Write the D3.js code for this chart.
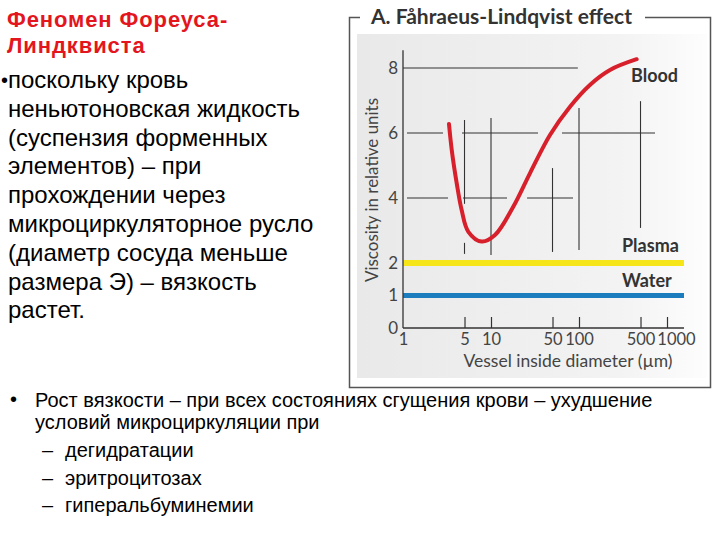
<!DOCTYPE html>
<html><head><meta charset="utf-8">
<script src="https://cdn.jsdelivr.net/npm/d3@7"></script>
<style>body{margin:0;background:#fff}svg{display:block}</style>
</head><body><svg id="c" width="720" height="540"></svg>
<script>
// ---- data ----
const bloodDiameter  = [3.33, 3.58, 4.08, 4.64, 5.53, 7.84, 11.1, 17.9, 27.7, 46.8, 79, 133, 225, 452];
const bloodViscosity = [6.28, 5.48, 4.45, 3.63, 2.96, 2.66, 2.86, 3.73, 4.76, 5.94, 6.81, 7.48, 7.94, 8.27];
const plasmaViscosity = 2;
const waterViscosity = 1;
const lineDiameterRange = [1, 1560];
const xTickValues = [1, 5, 10, 50, 100, 500, 1000];
const yTickValues = [0, 1, 2, 4, 6, 8];
const yAxisTop = 8.55;
// schematic grid segments: [viscosity, diameterFrom, diameterTo]
const gridH = [[8, 1, 97], [6, 1.11, 2.85], [6, 4.68, 34.2], [6, 64, 731], [4, 1.11, 3.25], [4, 4.8, 15.2], [4, 25.7, 85.5]];
// [diameter, viscosityFrom, viscosityTo]
const gridV = [[5, 6.4, 3.82], [5, 2.62, 2.28], [10, 6.46, 2.25], [50, 4.92, 2.34], [100, 6.77, 2.40], [500, 6.98, 3.08]];
const chartTitle = "A.  Fåhraeus-Lindqvist effect";
const xTitle = "Vessel inside diameter (µm)";
const yTitle = "Viscosity in relative units";
const seriesLabels = ["Blood", "Plasma", "Water"];
const headLines = ["Феномен Фореуса-", "Линдквиста"];
const bodyLines = ["поскольку кровь", "неньютоновская жидкость", "(суспензия форменных", "элементов) – при", "прохождении через", "микроциркуляторное русло", "(диаметр сосуда меньше", "размера Э) – вязкость", "растет."];
const bottomLines = ["Рост вязкости – при всех состояниях сгущения крови – ухудшение", "условий микроциркуляции при"];
const subItems = ["дегидратации", "эритроцитозах", "гиперальбуминемии"];

const svg = d3.select("#c");
const chartFont = "Lato, 'Open Sans', sans-serif";
const textFont = "'Liberation Sans', Arial, sans-serif";

// ---- left text ----
const head = svg.append("text").attr("font-family", textFont).attr("font-weight", "bold")
  .attr("font-size", 22).attr("letter-spacing", 0.9).attr("fill", "#e3161e");
headLines.forEach((t, i) => head.append("tspan").attr("x", 7).attr("y", 27 + i * 26).text(t));
svg.append("text").attr("x", 1).attr("y", 87).attr("font-family", textFont).attr("font-size", 20).attr("fill", "#000").text("•");
const body = svg.append("text").attr("font-family", textFont).attr("font-size", 24).attr("fill", "#000");
bodyLines.forEach((t, i) => body.append("tspan").attr("x", 8).attr("y", 88 + i * 28.8).text(t));

// bottom
svg.append("text").attr("x", 10).attr("y", 406).attr("font-family", textFont).attr("font-size", 20).text("•");
const bt = svg.append("text").attr("font-family", textFont).attr("font-size", 20).attr("fill", "#000");
bottomLines.forEach((t, i) => bt.append("tspan").attr("x", 35).attr("y", 407 + i * 21.5).text(t));
subItems.forEach((t, i) => {
  const yy = 457 + i * 27.5;
  svg.append("text").attr("x", 42).attr("y", yy).attr("font-family", textFont).attr("font-size", 20).text("–");
  svg.append("text").attr("x", 65).attr("y", yy).attr("font-family", textFont).attr("font-size", 20).text(t);
});

// ---- chart frame ----
const defs = svg.append("defs");
const grad = defs.append("linearGradient").attr("id", "bg").attr("x1", 0).attr("x2", 1).attr("y1", 0).attr("y2", 0);
grad.append("stop").attr("offset", "0").attr("stop-color", "#e9e9e9");
grad.append("stop").attr("offset", "0.75").attr("stop-color", "#f3f3f3");
grad.append("stop").attr("offset", "1").attr("stop-color", "#fdfdfd");
svg.append("rect").attr("x", 357).attr("y", 34).attr("width", 350).attr("height", 344).attr("fill", "url(#bg)");
svg.append("path").attr("d", "M360,17.5 H349.5 V387.5 H710.5 V17.5 H645")
  .attr("fill", "none").attr("stroke", "#555").attr("stroke-width", 1.5);
svg.append("text").attr("x", 371).attr("y", 24).attr("font-family", chartFont).attr("font-weight", "bold")
  .attr("font-size", 21).attr("fill", "#333").attr("textLength", 261).attr("lengthAdjust", "spacingAndGlyphs").text(chartTitle);

// ---- scales ----
const x = d3.scaleLog().domain([1, 1000]).range([403, 667]);
const y = d3.scaleLinear().domain([0, 8]).range([328, 68]);

// grid segments
const g = svg.append("g").attr("stroke", "#333").attr("stroke-width", 1.1);
g.selectAll("line.h").data(gridH).join("line").attr("class", "h")
  .attr("x1", d => x(d[1])).attr("x2", d => x(d[2])).attr("y1", d => y(d[0])).attr("y2", d => y(d[0]));
g.selectAll("line.v").data(gridV).join("line").attr("class", "v")
  .attr("x1", d => x(d[0])).attr("x2", d => x(d[0])).attr("y1", d => y(d[1])).attr("y2", d => y(d[2]));

// reference lines
svg.append("line").attr("x1", x(lineDiameterRange[0])).attr("x2", x(lineDiameterRange[1]))
  .attr("y1", y(plasmaViscosity)).attr("y2", y(plasmaViscosity)).attr("stroke", "#f6e619").attr("stroke-width", 6);
svg.append("line").attr("x1", x(lineDiameterRange[0])).attr("x2", x(lineDiameterRange[1]))
  .attr("y1", y(waterViscosity)).attr("y2", y(waterViscosity)).attr("stroke", "#1b7dbd").attr("stroke-width", 5);

// axes
svg.append("line").attr("x1", x(1)).attr("x2", x(1)).attr("y1", y(0)).attr("y2", y(yAxisTop)).attr("stroke", "#333").attr("stroke-width", 1.3);
svg.append("line").attr("x1", x(1)).attr("x2", x(lineDiameterRange[1])).attr("y1", y(0)).attr("y2", y(0)).attr("stroke", "#333").attr("stroke-width", 1.3);

const xa = svg.append("g").attr("transform", `translate(0,${y(0)})`)
  .call(d3.axisBottom(x).tickValues(xTickValues).tickFormat(d3.format("d")).tickSize(-11).tickPadding(5));
xa.select(".domain").remove();
xa.selectAll(".tick line").attr("stroke", "#333").attr("stroke-width", 1.2);
xa.selectAll(".tick text").attr("font-family", chartFont).attr("font-size", 16.5).attr("fill", "#444");
xa.selectAll(".tick").filter(d => d === 1).select("line").remove();
xa.selectAll(".tick").filter(d => d === 1000).select("text").attr("dx", 9);

const ya = svg.append("g").attr("transform", `translate(${x(1)},0)`)
  .call(d3.axisLeft(y).tickValues(yTickValues).tickSize(0).tickPadding(5));
ya.select(".domain").remove();
ya.selectAll(".tick text").attr("font-family", chartFont).attr("font-size", 17).attr("fill", "#444");

svg.append("text").attr("x", 568).attr("y", 367).attr("text-anchor", "middle").attr("font-family", chartFont)
  .attr("font-size", 17).attr("fill", "#444").attr("textLength", 209).attr("lengthAdjust", "spacingAndGlyphs").text(xTitle);
svg.append("text").attr("transform", "translate(378,190) rotate(-90)").attr("text-anchor", "middle").attr("font-family", chartFont)
  .attr("font-size", 18).attr("fill", "#444").attr("textLength", 184).attr("lengthAdjust", "spacingAndGlyphs").text(yTitle);

// blood curve
const pts = bloodDiameter.map((d, i) => [d, bloodViscosity[i]]);
svg.append("path").datum(pts).attr("fill", "none").attr("stroke", "#d7202b").attr("stroke-width", 4).attr("stroke-linecap", "round")
  .attr("d", d3.line().x(d => x(d[0])).y(d => y(d[1])).curve(d3.curveCatmullRom.alpha(0.5)));

// series labels
const labelPos = [[631, 82], [622, 252], [622, 287]];
seriesLabels.forEach((t, i) => svg.append("text").attr("x", labelPos[i][0]).attr("y", labelPos[i][1])
  .attr("font-family", chartFont).attr("font-weight", "bold").attr("font-size", 18).attr("fill", "#333").text(t));
</script></body></html>
